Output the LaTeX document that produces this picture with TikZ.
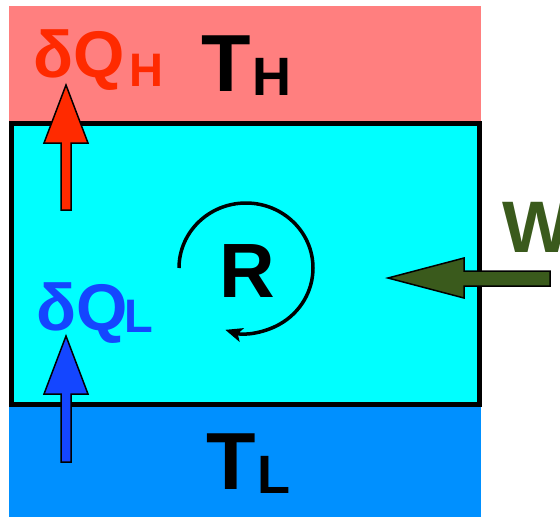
\documentclass[tikz,border=0pt]{standalone}
\usepackage{fontspec}
\setmainfont{Liberation Sans}
\usetikzlibrary{arrows.meta}
\definecolor{hot}{HTML}{FF7F7F}
\definecolor{cold}{HTML}{0090FF}
\definecolor{sys}{HTML}{00FFFF}
\definecolor{qh}{HTML}{FF2A00}
\definecolor{ql}{HTML}{1446FF}
\definecolor{wg}{HTML}{3A5A1C}
\tikzset{
  lbl/.style={anchor=base west,inner sep=0pt,font=\bfseries},
  bigf/.style={lbl,font=\bfseries\fontsize{81}{81}\selectfont},
  bigsub/.style={lbl,font=\bfseries\fontsize{54}{54}\selectfont},
  qf/.style={lbl,font=\bfseries\fontsize{66}{66}\selectfont},
  qsub/.style={lbl,font=\bfseries\fontsize{47}{47}\selectfont},
  arr/.style={draw=black,line width=1.5pt,line join=miter}
}
\begin{document}
\begin{tikzpicture}[x=1pt,y=-1pt]
\useasboundingbox (0,0) rectangle (560,517);
% reservoirs
\fill[hot] (9,6) rectangle (481,123);
\fill[cold] (9,404) rectangle (481,517);
% system
\draw[fill=sys,line width=5pt] (11,123) rectangle (479,404.5);
% heat arrows
\draw[arr,fill=qh] (61,210) -- (61,143) -- (44,143) -- (66,85) -- (88,143) -- (71,143) -- (71,210) -- cycle;
\draw[arr,fill=ql] (61,462) -- (61,394) -- (44,394) -- (66,336) -- (88,394) -- (71,394) -- (71,462) -- cycle;
% work arrow
\draw[arr,fill=wg] (550,271) -- (464,271) -- (464,258) -- (388,278) -- (464,298) -- (464,286) -- (550,286) -- cycle;
% cycle arrow
\coordinate (c) at (246,268);
\draw[line width=3.5pt,-{Stealth[length=17pt,width=14pt,inset=4pt]}] ([shift={(180:67 and 65)}]c) arc[start angle=180,end angle=468,x radius=67,y radius=65];
% labels
\node[qf,text=qh] (dqh) at (33,77) {δQ};
\node[qsub,text=qh] (dqhs) at (129,86) {H};
\node[bigf] (th) at (201,91) {T};
\node[bigsub] (ths) at (252,95) {H};
\node[qf,text=ql] (dql) at (36,330) {δQ};
\node[qsub,text=ql] (dqls) at (124,332) {L};
\node[bigf] (tl) at (206,489) {T};
\node[bigsub] (tls) at (257,493) {L};
\node[lbl,font=\bfseries\fontsize{77}{77}\selectfont] (r) at (219,297) {R};
\node[lbl,text=wg,font=\bfseries\fontsize{73}{73}\selectfont] (w) at (502,252) {W};
\end{tikzpicture}
\end{document}
